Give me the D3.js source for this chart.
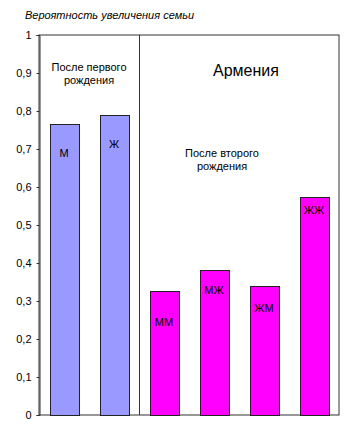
<!DOCTYPE html>
<html>
<head>
<meta charset="utf-8">
<script src="https://cdn.jsdelivr.net/npm/d3@7"></script>
<style>
body { margin: 0; background: #fff; }
text { font-family: "Liberation Sans", Arial, sans-serif; }
</style>
</head>
<body>
<div id="chart-area"></div>
<script>

var categories = ["М", "Ж", "ММ", "МЖ", "ЖМ", "ЖЖ"];
var values = [0.766, 0.789, 0.326, 0.382, 0.339, 0.574];
var groups = ["first", "first", "second", "second", "second", "second"];
var yTicks = [0, 0.1, 0.2, 0.3, 0.4, 0.5, 0.6, 0.7, 0.8, 0.9, 1];

var margin = { top: 35, right: 15, bottom: 15, left: 39 },
    width = 354 - margin.left - margin.right,
    height = 430 - margin.top - margin.bottom;

var svg = d3.select("#chart-area")
    .append("svg")
    .attr("width", 354)
    .attr("height", 430);

var g = svg.append("g")
    .attr("transform", "translate(" + margin.left + "," + margin.top + ")");

var xScale = d3.scaleBand()
    .domain(categories)
    .range([0, 300])
    .paddingInner(0.42)
    .paddingOuter(0.21);

var yScale = d3.scaleLinear()
    .domain([0, 1])
    .range([380, 0]);

var colors = { first: "#9999ff", second: "#ff00ff" };
// label offsets below bar top, as placed in the original
var labelDy = [29, 29, 31, 20, 22, 13];

// plot frame
g.append("rect")
    .attr("x", 0)
    .attr("y", 0)
    .attr("width", 300)
    .attr("height", 380)
    .attr("fill", "none")
    .attr("stroke", "#333")
    .attr("stroke-width", 1);

// divider between groups
var divX = xScale("ММ") - xScale.step() * xScale.paddingInner() / 2;
g.append("line")
    .attr("x1", Math.round(divX) + 0.5)
    .attr("x2", Math.round(divX) + 0.5)
    .attr("y1", 0)
    .attr("y2", 380)
    .attr("stroke", "#333");

var yAxis = d3.axisLeft(yScale)
    .tickValues(yTicks)
    .tickSize(3)
    .tickPadding(5)
    .tickFormat(function(d) { return d3.format("~g")(d).replace(".", ","); });

g.append("g")
    .attr("transform", "translate(0.5,0)")
    .call(yAxis)
    .call(function(a) {
        a.select(".domain").attr("stroke", "#333");
        a.selectAll(".tick line").attr("stroke", "#333");
        a.selectAll("text")
            .style("font-size", "11px")
            .attr("fill", "#000");
    });

g.selectAll("rect.bar")
    .data(categories)
    .enter().append("rect")
    .attr("class", "bar")
    .attr("x", function(d) { return Math.round(xScale(d)) + 0.5; })
    .attr("y", function(d, i) { return Math.round(yScale(values[i])) + 0.5; })
    .attr("width", 29)
    .attr("height", function(d, i) { return 380 - Math.round(yScale(values[i])); })
    .attr("fill", function(d, i) { return colors[groups[i]]; })
    .attr("stroke", "#222")
    .attr("stroke-width", 1);

g.selectAll("text.lbl")
    .data(categories)
    .enter().append("text")
    .attr("class", "lbl")
    .attr("x", function(d) { return xScale(d) + xScale.bandwidth() / 2; })
    .attr("y", function(d, i) { return yScale(values[i]) + labelDy[i] + 4; })
    .attr("text-anchor", "middle")
    .style("font-size", "11px")
    .text(function(d) { return d; });

// group annotations
function twoLines(x, y, lines) {
    var t = g.append("text")
        .attr("x", x)
        .attr("y", y)
        .attr("text-anchor", "middle")
        .style("font-size", "11px");
    lines.forEach(function(s, i) {
        t.append("tspan").attr("x", x).attr("dy", i === 0 ? 0 : 13).text(s);
    });
}
twoLines(50, 36, ["После первого", "рождения"]);
twoLines(183, 122, ["После второго", "рождения"]);

g.append("text")
    .attr("x", 207)
    .attr("y", 41)
    .attr("text-anchor", "middle")
    .style("font-size", "16px")
    .text("Армения");

svg.append("text")
    .attr("x", 25)
    .attr("y", 19)
    .style("font-size", "11px")
    .style("font-style", "italic")
    .text("Вероятность увеличения семьи");

</script>
</body>
</html>
